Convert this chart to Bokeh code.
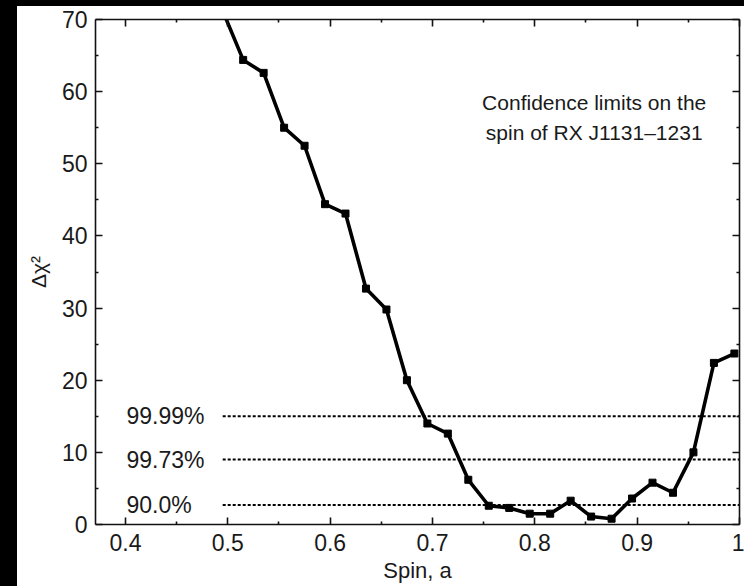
from bokeh.plotting import figure
from bokeh.models import Range1d, FixedTicker, LinearAxis, Div
from bokeh.layouts import row, column
from bokeh.embed import file_html
from bokeh.resources import INLINE
from bokeh.core.properties import value

# ---- data ----
spin = [0.495, 0.515, 0.535, 0.555, 0.575, 0.595, 0.615, 0.635, 0.655, 0.675,
        0.695, 0.715, 0.735, 0.755, 0.775, 0.795, 0.815, 0.835, 0.855, 0.875,
        0.895, 0.915, 0.935, 0.955, 0.975, 0.995]
delta_chi2 = [71.2, 64.4, 62.6, 55.0, 52.5, 44.4, 43.1, 32.7, 29.8, 20.0,
              14.0, 12.6, 6.2, 2.6, 2.3, 1.5, 1.5, 3.3, 1.1, 0.8,
              3.6, 5.8, 4.4, 10.0, 22.4, 23.7]

conf_labels = ["99.99%", "99.73%", "90.0%"]
conf_levels = [15.0, 9.0, 2.7]

x_ticks = [0.4, 0.5, 0.6, 0.7, 0.8, 0.9, 1.0]
x_tick_labels = ["0.4", "0.5", "0.6", "0.7", "0.8", "0.9", "1"]
x_minor = [0.45, 0.55, 0.65, 0.75, 0.85, 0.95]
y_ticks = [0, 10, 20, 30, 40, 50, 60, 70]
y_minor = [5, 15, 25, 35, 45, 55, 65]

note_lines = ["Confidence limits on the", "spin of RX J1131\u20131231"]
x_label = "Spin, a"
y_label = "\u0394\u03c7\u00b2"

FONT = "Liberation Sans"
TXT = "#1a1a1a"
AX = "#111111"

p = figure(width=727, height=580, output_backend="svg", toolbar_location=None,
           x_range=Range1d(0.3707, 1.0), y_range=Range1d(0, 70),
           min_border_left=78, min_border_right=5, min_border_top=13,
           min_border_bottom=62)
p.xgrid.visible = False
p.ygrid.visible = False
p.outline_line_color = None
p.background_fill_color = "white"
p.border_fill_color = "white"


def style_ticks(ax):
    ax.axis_line_color = AX
    ax.axis_line_width = 1.6
    ax.major_tick_line_color = AX
    ax.minor_tick_line_color = AX
    ax.major_tick_line_width = 1.6
    ax.minor_tick_line_width = 1.6
    ax.major_tick_in = 7
    ax.major_tick_out = 0
    ax.minor_tick_in = 3
    ax.minor_tick_out = 0


xb = p.xaxis[0]
xb.ticker = FixedTicker(ticks=x_ticks, minor_ticks=x_minor)
style_ticks(xb)
xb.major_label_overrides = dict(zip(x_ticks, x_tick_labels))
xb.major_label_text_font = FONT
xb.major_label_text_font_size = "23px"
xb.major_label_text_color = TXT
xb.major_label_standoff = 9
xb.axis_label = x_label
xb.axis_label_text_font = FONT
xb.axis_label_text_font_size = "22px"
xb.axis_label_text_font_style = "normal"
xb.axis_label_text_color = TXT
xb.axis_label_standoff = 4

yl = p.yaxis[0]
yl.ticker = FixedTicker(ticks=y_ticks, minor_ticks=y_minor)
style_ticks(yl)
yl.major_label_text_font = FONT
yl.major_label_text_font_size = "23px"
yl.major_label_text_color = TXT
yl.major_label_standoff = 8
yl.axis_label = y_label
yl.axis_label_text_font = FONT
yl.axis_label_text_font_size = "21px"
yl.axis_label_text_font_style = "normal"
yl.axis_label_text_color = TXT
yl.axis_label_standoff = 9


# mirrored tick marks on the top and right edges (unlabelled: minor ticks only)
def mirror_axis(loc, major_pos, minor_pos):
    for pos, length, line in ((major_pos, 7, AX), (minor_pos, 3, None)):
        ax = LinearAxis(ticker=FixedTicker(ticks=[], minor_ticks=pos))
        ax.axis_line_color = line
        ax.axis_line_width = 1.6
        ax.minor_tick_line_color = AX
        ax.minor_tick_line_width = 1.6
        ax.minor_tick_in = length
        ax.minor_tick_out = 0
        ax.major_tick_in = 0
        ax.major_tick_out = 0
        ax.major_label_standoff = 0
        ax.axis_label_standoff = 0
        p.add_layout(ax, loc)


mirror_axis("above", x_ticks, x_minor)
mirror_axis("right", y_ticks, y_minor)

# confidence levels
p.segment(x0=[0.495] * len(conf_levels), y0=conf_levels,
          x1=[1.0] * len(conf_levels), y1=conf_levels,
          line_color="black", line_width=2, line_dash="3 2")
p.text(x=[0.401] * len(conf_levels), y=conf_levels, text=conf_labels,
       text_align="left", text_baseline="middle",
       text_font=value(FONT), text_font_size="23px", text_color=TXT)

# curve
p.line(spin, delta_chi2, line_color="black", line_width=3.6)
p.scatter(spin, delta_chi2, marker="square", size=7, color="black")

# annotation
p.text(x=[0.858, 0.858], y=[58.5, 54.4], text=note_lines,
       text_align="center", text_baseline="alphabetic",
       text_font=value(FONT), text_font_size="21px", text_color=TXT)

top_strip = Div(width=744, height=6, margin=0,
                styles={"background-color": "black"})
left_strip = Div(width=17, height=580, margin=0,
                 styles={"background-color": "black"})
layout = column(top_strip, row(left_strip, p))

open("out.html", "w").write(file_html(layout, INLINE))
